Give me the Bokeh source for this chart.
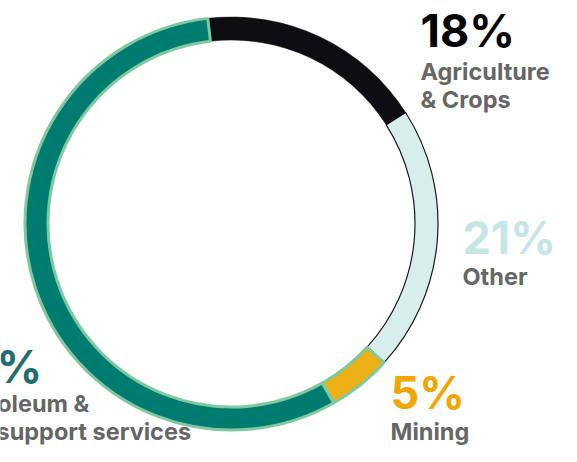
import math
from bokeh.plotting import figure
from bokeh.models import Range1d
from bokeh.core.properties import value
from bokeh.embed import file_html
from bokeh.resources import INLINE

# Data
categories = ["Agriculture & Crops", "Other", "Mining", "Petroleum & support services"]
shares = [17.8, 20.8, 5.0, 56.4]
label_lines = [["Agriculture", "& Crops"], ["Other"], ["Mining"], ["Petroleum &", "support services"]]

fill_colors = ["#0e0d12", "#d8eeed", "#eeb115", "#007b70"]
line_colors = ["#0e0d12", "#1a1a1a", "#80c9a0", "#80c9a0"]
line_widths = [0.5, 1.2, 3, 3]
pct_colors = ["#000000", "#c6e6e6", "#f0a500", "#226e6e"]

PW, PH = 561, 446
p = figure(width=PW, height=PH, output_backend="svg", toolbar_location=None,
           x_range=Range1d(0, PW), y_range=Range1d(0, PH),
           min_border=0, background_fill_color="white", border_fill_color="white")
p.axis.visible = False
p.grid.visible = False
p.outline_line_color = None

def Y(v):
    return PH - v

cx, cy = 231, Y(223)
r_out, r_in = 206.5, 183.5
start = -6.6  # degrees clockwise from top

total = sum(shares)
bounds = [start]
for s in shares:
    bounds.append(bounds[-1] + s / total * 360)

order = [1, 0, 2, 3]
for i in order:
    a0 = math.radians(90 - bounds[i])
    a1 = math.radians(90 - bounds[i + 1])
    p.annular_wedge(x=cx, y=cy, inner_radius=r_in, outer_radius=r_out,
                    start_angle=a0, end_angle=a1, direction="clock",
                    fill_color=fill_colors[i], line_color=line_colors[i],
                    line_width=line_widths[i])

# label anchors (pixel positions): pct x, label line x's, pct baseline, label baselines
anchors = [(420, [420, 420], 30, [71, 99]), (462, [462], 237, [276]),
           (390, [390], 392, [431]), (-62, [-50, -4], 366, [403, 431])]
font = value("Inter")
for i, (px, lxs, pb, lbs) in enumerate(anchors):
    p.text(x=[px], y=[Y(pb)], text=[f"{round(shares[i])}%"], text_font=font,
           text_font_style="bold", text_font_size="45px", text_color=pct_colors[i],
           text_align="left", text_baseline="alphabetic")
    for line, lx, b in zip(label_lines[i], lxs, lbs):
        p.text(x=[lx], y=[Y(b)], text=[line], text_font=font, text_font_style="bold",
               text_font_size="23.5px", text_color="#666666",
               text_align="left", text_baseline="alphabetic")

open("out.html", "w").write(file_html(p, INLINE))
